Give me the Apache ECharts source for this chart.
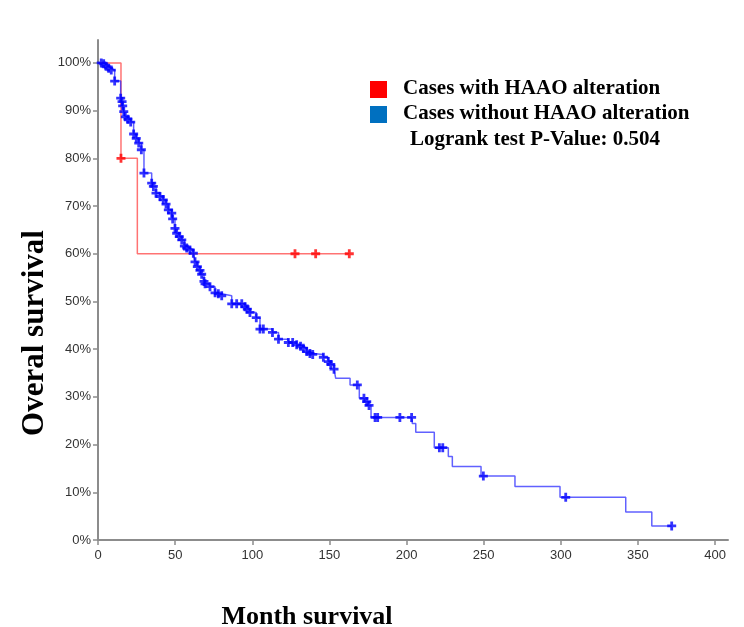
<!DOCTYPE html>
<html>
<head>
<meta charset="utf-8">
<script src="https://cdn.jsdelivr.net/npm/echarts@6/dist/echarts.min.js"></script>
<style>
  html, body { margin: 0; padding: 0; background: #fff; }
  #chart { width: 744px; height: 627px; }
</style>
</head>
<body>
<div id="chart"></div>
<script>
// Kaplan-Meier overall survival, HAAO altered vs. unaltered cases (months, % surviving)

// Cases with HAAO alteration: drops (events) and censored follow-ups
const redEventTimes = [0, 14.9, 25.5];
const redEventSurv = [100, 80, 60];
const redCensorTimes = [14.9, 127.7, 141.1, 162.9];
const redCensorSurv = [80, 60, 60, 60];

// Cases without HAAO alteration: censored follow-ups (sit on the curve)
const blueCensorTimes = [2.1, 3.7, 5.2, 6.9, 8.6, 10.8, 14.7, 15.6, 16.0, 16.7,
  17.7, 19.4, 21.2, 23.1, 24.8, 26.4, 28.1, 29.8, 34.8, 35.9,
  37.6, 40.2, 42.3, 44.1, 45.6, 47.8, 48.4, 49.9, 51.0, 52.7,
  54.3, 56.0, 57.5, 59.6, 61.8, 62.9, 64.4, 66.1, 67.2, 68.7,
  69.4, 72.6, 75.9, 78.0, 80.2, 86.7, 89.9, 93.2, 95.3, 96.8,
  98.5, 102.6, 105.0, 107.2, 113.1, 117.0, 123.4, 126.2, 128.8, 131.3,
  133.1, 135.3, 137.4, 139.2, 146.1, 149.3, 150.9, 153.0,
  168.1, 172.4, 174.2, 175.7, 179.6, 181.3, 195.7, 203.3, 221.3, 223.5,
  249.8, 303.2, 371.9];
const blueCensorSurv = [100, 99.8, 99.3, 98.9, 98.5, 96.2, 92.6, 91.9, 91.0, 89.8,
  88.7, 88.2, 87.6, 85.1, 84.2, 83.2, 81.8, 76.9, 74.8, 74.1,
  72.7, 72.0, 71.3, 70.4, 69.2, 68.5, 67.3, 65.3, 64.3, 63.6,
  62.9, 61.6, 61.2, 60.8, 60.1, 58.3, 57.3, 56.5, 55.7, 54.2,
  53.7, 53.1, 51.8, 51.6, 51.2, 49.5, 49.5, 49.5, 48.9, 48.4,
  47.7, 46.6, 44.2, 44.2, 43.5, 42.1, 41.4, 41.4, 40.9, 40.6,
  40.2, 39.5, 39.1, 38.9, 38.3, 37.4, 36.8, 35.8,
  32.5, 29.7, 29.0, 28.2, 25.7, 25.7, 25.7, 25.7, 19.35, 19.35,
  13.4, 8.95, 2.94];

// Cases without HAAO alteration: drops (events) between censored follow-ups
const blueEventTimes = [0, 154.1, 163.4, 169.4, 173.3, 175.2, 177.0, 203.8, 206.0,
  218.0, 227.1, 229.7, 248.3, 270.3, 299.5, 342.1, 359.0];
const blueEventSurv = [100, 33.9, 32.5, 29.7, 29.0, 28.2, 25.7, 24.4, 22.6,
  19.35, 17.5, 15.4, 13.4, 11.2, 8.95, 5.87, 2.94];

// Axis ticks
const xTicks = [0, 50, 100, 150, 200, 250, 300, 350, 400];
const yTicks = [0, 10, 20, 30, 40, 50, 60, 70, 80, 90, 100];

function pairs(ts, ss) { return ts.map((t, i) => [t, ss[i]]); }

// Merge events and censored points into the step path of a survival curve
function kmPath(evT, evS, cT, cS) {
  const pts = pairs(evT, evS).concat(pairs(cT, cS));
  pts.sort((a, b) => a[0] - b[0]);
  return pts;
}

const plusSymbol = 'path://M-1.4,-4.5 H1.4 V-1.4 H4.5 V1.4 H1.4 V4.5 H-1.4 V1.4 H-4.5 V-1.4 H-1.4 Z';

const chart = echarts.init(document.getElementById('chart'), null, { renderer: 'canvas' });

const axisGray = '#8c8c8c';
const labelFont = { fontFamily: 'Liberation Sans, Arial, sans-serif', fontSize: 13, color: '#333' };

chart.setOption({
  animation: false,
  backgroundColor: '#fff',
  grid: { left: 98, top: 40, width: 630, height: 500, containLabel: false },
  xAxis: {
    type: 'value', min: 0, max: 408.4,
    axisLine: { show: true, lineStyle: { color: axisGray, width: 2 } },
    axisTick: { show: true, length: 5, lineStyle: { color: axisGray, width: 1.5 }, customValues: xTicks },
    axisLabel: Object.assign({ margin: 9, customValues: xTicks }, labelFont),
    splitLine: { show: false }
  },
  yAxis: {
    type: 'value', min: 0, max: 104.8,
    axisLine: { show: true, lineStyle: { color: axisGray, width: 2 } },
    axisTick: { show: true, length: 5, lineStyle: { color: axisGray, width: 1.5 }, customValues: yTicks },
    axisLabel: Object.assign({ margin: 7, customValues: yTicks, formatter: v => v + '%' }, labelFont),
    splitLine: { show: false }
  },
  series: [
    {
      name: 'Cases with HAAO alteration', type: 'line', step: 'end',
      data: kmPath(redEventTimes, redEventSurv, [162.9], [60]),
      showSymbol: false, lineStyle: { color: 'rgba(255,40,40,0.65)', width: 1.5 }, z: 2
    },
    {
      name: 'Cases without HAAO alteration', type: 'line', step: 'end',
      data: kmPath(blueEventTimes, blueEventSurv, blueCensorTimes, blueCensorSurv),
      showSymbol: false, lineStyle: { color: 'rgba(30,30,255,0.7)', width: 1.5 }, z: 3
    },
    {
      type: 'scatter', data: pairs(redCensorTimes, redCensorSurv),
      symbol: plusSymbol, symbolSize: 9, itemStyle: { color: '#ff0000' }, clip: false, z: 4
    },
    {
      type: 'scatter', data: pairs(blueCensorTimes, blueCensorSurv),
      symbol: plusSymbol, symbolSize: 9, itemStyle: { color: '#0000ff' }, clip: false, z: 5
    }
  ],
  graphic: [
    { type: 'rect', left: 370, top: 81, shape: { width: 17, height: 17 }, style: { fill: '#ff0000' } },
    { type: 'rect', left: 370, top: 106, shape: { width: 17, height: 17 }, style: { fill: '#0070c0' } },
    { type: 'text', left: 403, top: 78, style: { text: 'Cases with HAAO alteration', font: 'bold 21px "Liberation Serif", "Times New Roman", serif', fill: '#000' } },
    { type: 'text', left: 403, top: 103, style: { text: 'Cases without HAAO alteration', font: 'bold 21px "Liberation Serif", "Times New Roman", serif', fill: '#000' } },
    { type: 'text', left: 410, top: 129, style: { text: 'Logrank test P-Value: 0.504', font: 'bold 21px "Liberation Serif", "Times New Roman", serif', fill: '#000' } },
    { type: 'text', x: 35, y: 333, rotation: Math.PI / 2, style: { text: 'Overal survival', font: 'bold 31px "Liberation Serif", "Times New Roman", serif', fill: '#000', align: 'center', verticalAlign: 'middle' } },
    { type: 'text', x: 307, y: 617, style: { text: 'Month survival', font: 'bold 26px "Liberation Serif", "Times New Roman", serif', fill: '#000', align: 'center', verticalAlign: 'middle' } }
  ]
});
</script>
</body>
</html>
